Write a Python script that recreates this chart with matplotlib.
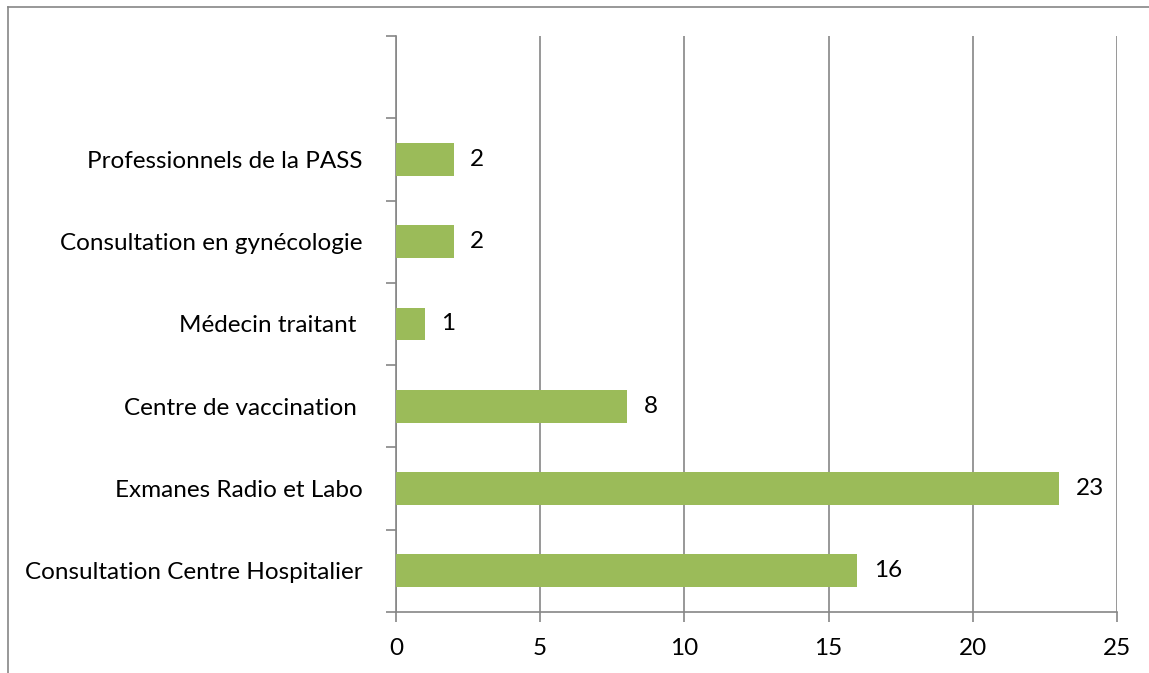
import matplotlib
matplotlib.use("Agg")
import matplotlib.pyplot as plt
import numpy as np
from matplotlib.lines import Line2D

categories = [
    "Consultation Centre Hospitalier",
    "Exmanes Radio et Labo",
    "Centre de vaccination ",
    "Médecin traitant ",
    "Consultation en gynécologie",
    "Professionnels de la PASS",
]
values = [16, 23, 8, 1, 2, 2]
xticks = [0, 5, 10, 15, 20, 25]

GREY = "#868686"
GREEN = "#9BBB59"
FS = 17.5

plt.rcParams["font.family"] = ["Lato", "DejaVu Sans"]

fig = plt.figure(figsize=(11.49, 6.73), dpi=100)
ax = fig.add_axes([396 / 1149, 1 - 612 / 673, (1117 - 396) / 1149, (612 - 36) / 673])

y = np.arange(len(categories))
ax.barh(y, values, height=0.4, color=GREEN, zorder=3)
for yi, v in zip(y, values):
    ax.annotate(str(v), (v, yi), xytext=(12, 0), textcoords="offset points",
                va="center", ha="left", fontsize=FS, color="black")

ax.set_xlim(0, 25)
ax.set_ylim(-0.5, len(categories) + 0.5)
ax.set_xticks(xticks)
ax.set_xticklabels([str(t) for t in xticks])
ax.set_yticks(y)
ax.set_yticklabels(categories)
ax.set_yticks(np.arange(-0.5, len(categories) + 1), minor=True)
ax.tick_params(axis="y", which="major", length=0, pad=24, labelsize=FS)
ax.tick_params(axis="y", which="minor", length=7, width=1.2, color=GREY, direction="out")
ax.tick_params(axis="x", which="major", length=7, width=1.2, color=GREY, direction="out",
               pad=12, labelsize=FS)

ax.grid(True, axis="x", color=GREY, linewidth=1.2, zorder=0)
for side in ["top", "right"]:
    ax.spines[side].set_visible(False)
for side in ["left", "bottom"]:
    ax.spines[side].set_color(GREY)
    ax.spines[side].set_linewidth(1.2)

# chart-area border, cut off at the right and bottom of the image
fig.add_artist(Line2D([8 / 1149, 8 / 1149], [0, 1 - 7 / 673], color=GREY, linewidth=1.2,
                      transform=fig.transFigure))
fig.add_artist(Line2D([8 / 1149, 1], [1 - 7 / 673, 1 - 7 / 673], color=GREY, linewidth=1.2,
                      transform=fig.transFigure))

fig.savefig("out.png", dpi=100)
